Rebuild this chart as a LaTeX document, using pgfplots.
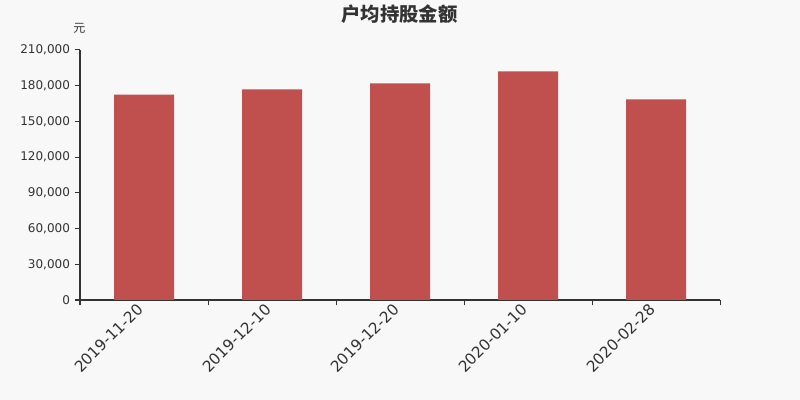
\documentclass[border=0pt]{standalone}
\usepackage{pgfplots}
\pgfplotsset{compat=1.18}
\usepackage{fontspec}
\setmainfont{DejaVu Sans}
\newfontfamily\cjk{Noto Sans CJK SC}
\definecolor{bg}{HTML}{F8F8F8}
\definecolor{barred}{HTML}{C0504D}
\definecolor{txt}{HTML}{333333}
% 1 px of the 800x400 picture = 0.75pt
\begin{document}
\begin{tikzpicture}
  \fill[bg] (0pt,0pt) rectangle (600pt,300pt);
  \useasboundingbox (0pt,0pt) rectangle (600pt,300pt);
  \node[txt,font=\cjk\bfseries\fontsize{14.5}{16}\selectfont] at (299.5pt,289.5pt) {户均持股金额};
  \node[txt,font=\cjk\fontsize{9}{10}\selectfont] at (59.5pt,278.5pt) {元};
  \begin{axis}[
    at={(60pt,75pt)}, anchor=south west,
    scale only axis, width=480pt, height=187.5pt,
    xmin=-0.5, xmax=4.5,
    ymin=0, ymax=210000,
    axis x line*=bottom, axis y line*=left,
    axis line style={txt, line width=0.75pt},
    tick align=outside,
    major tick length=4pt, minor tick length=4pt,
    xtick={0,1,2,3,4},
    xticklabels={2019-11-20,2019-12-10,2019-12-20,2020-01-10,2020-02-28},
    minor xtick={-0.5,0.5,1.5,2.5,3.5,4.5},
    major x tick style={draw=none},
    minor x tick style={txt, line width=0.75pt},
    ytick={0,30000,60000,90000,120000,150000,180000,210000},
    y tick style={txt, line width=0.75pt},
    scaled y ticks=false,
    /pgf/number format/fixed,
    /pgf/number format/1000 sep={,},
    /pgf/number format/assume math mode=true,
    xticklabel style={rotate=45, anchor=north east, txt, font=\fontsize{11.5}{13}\selectfont, inner sep=1pt, yshift=7pt, xshift=-1.5pt},
    yticklabel style={txt, font=\fontsize{9}{11}\selectfont},
  ]
    \addplot[ybar, bar width=0.46875, fill=barred, draw=none] coordinates {
      (0,172500) (1,177000) (2,182000) (3,192000) (4,168500)
    };
  \end{axis}
\end{tikzpicture}
\end{document}
